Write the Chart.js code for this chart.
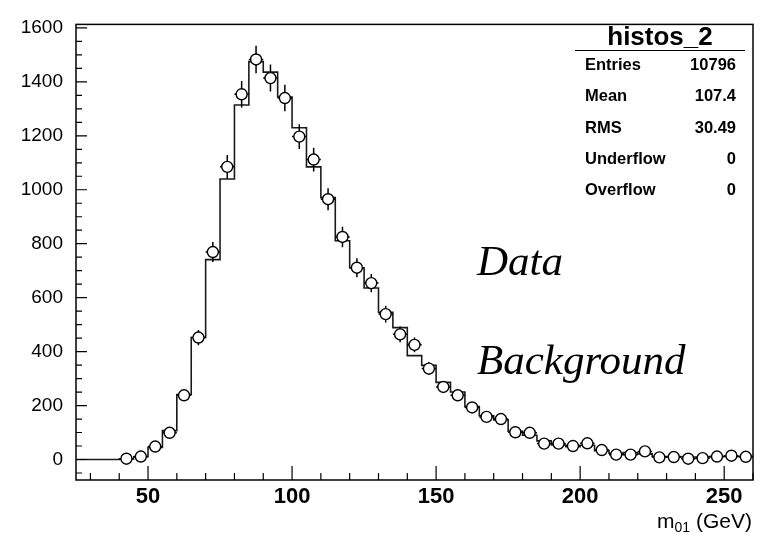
<!DOCTYPE html>
<html>
<head>
<meta charset="utf-8">
<script src="https://cdn.jsdelivr.net/npm/chart.js@4"></script>
<style>
  body { margin: 0; background: #fff; }
  #wrap { width: 767px; height: 534px; }
</style>
</head>
<body>
<div id="wrap"><canvas id="histo_Chart" width="767" height="534"></canvas></div>
<script>
// bin lower edges (GeV), bin width 5
const bin_low = [25, 30, 35, 40, 45, 50, 55, 60, 65, 70, 75, 80, 85, 90, 95, 100, 105, 110, 115, 120,
  125, 130, 135, 140, 145, 150, 155, 160, 165, 170, 175, 180, 185, 190, 195, 200, 205, 210, 215, 220,
  225, 230, 235, 240, 245, 250, 255];
const x_max = 260;

// background histogram contents
const bkg_counts = [0, 0, 0, 2, 10, 45, 107, 241, 452, 741, 1040, 1314, 1475, 1436, 1344, 1230, 1085, 971, 811, 711,
  636, 546, 489, 385, 349, 286, 250, 196, 162, 147, 105, 90, 69, 54, 47, 53, 33, 23, 26, 21,
  11, 11, 9, 9, 11, 11, 11];

// data points (bin centres) and their errors
const data_x = [42.5, 47.5, 52.5, 57.5, 62.5, 67.5, 72.5, 77.5, 82.5, 87.5, 92.5, 97.5, 102.5, 107.5, 112.5,
  117.5, 122.5, 127.5, 132.5, 137.5, 142.5, 147.5, 152.5, 157.5, 162.5, 167.5, 172.5, 177.5, 182.5, 187.5,
  192.5, 197.5, 202.5, 207.5, 212.5, 217.5, 222.5, 227.5, 232.5, 237.5, 242.5, 247.5, 252.5, 257.5];
const data_y = [3, 11, 48, 99, 238, 452, 769, 1085, 1354, 1483, 1414, 1340, 1197, 1112, 965,
  825, 711, 654, 539, 464, 425, 337, 269, 238, 193, 158, 150, 101, 99, 59,
  59, 50, 60, 35, 18, 18, 30, 8, 9, 3, 5, 11, 14, 10];
const data_err = [2, 4, 9, 13, 21, 28, 37, 44, 49, 51, 50, 49, 46, 44, 41,
  38, 35, 34, 31, 29, 27, 24, 22, 21, 18, 17, 16, 13, 13, 10,
  10, 9, 10, 8, 6, 6, 7, 4, 4, 2, 3, 4, 5, 4];

const x_ticks = [50, 100, 150, 200, 250];
const y_ticks = [0, 200, 400, 600, 800, 1000, 1200, 1400, 1600];

const stats_title = 'histos_2';
const stats_names = ['Entries', 'Mean', 'RMS', 'Underflow', 'Overflow'];
const stats_values = ['10796', '107.4', '30.49', '0', '0'];

const text_labels = ['Data', 'Background'];

const bkg_points = bin_low.map((x, i) => ({ x: x, y: bkg_counts[i] }));
bkg_points.push({ x: x_max, y: bkg_counts[bkg_counts.length - 1] });
const data_points = data_x.map((x, i) => ({ x: x, y: data_y[i] }));

const SANS = '"Liberation Sans", Arial, sans-serif';

const rootStyle = {
  id: 'rootStyle',
  beforeDatasetDraw(chart, args) {
    if (args.index !== 1) return;
    const xs = chart.scales.x, ys = chart.scales.y, ctx = chart.ctx;
    ctx.save();
    ctx.strokeStyle = '#000';
    ctx.lineWidth = 1.5;
    ctx.beginPath();
    data_x.forEach((x, i) => {
      const px = xs.getPixelForValue(x);
      const py = ys.getPixelForValue(data_y[i]);
      ctx.moveTo(px, ys.getPixelForValue(data_y[i] - data_err[i]));
      ctx.lineTo(px, ys.getPixelForValue(data_y[i] + data_err[i]));
      ctx.moveTo(xs.getPixelForValue(x - 2.5), py);
      ctx.lineTo(xs.getPixelForValue(x + 2.5), py);
    });
    ctx.stroke();
    ctx.restore();
  },
  afterDraw(chart) {
    const ctx = chart.ctx, a = chart.chartArea;
    const xs = chart.scales.x, ys = chart.scales.y;
    ctx.save();
    // frame
    ctx.strokeStyle = '#000';
    ctx.lineWidth = 1.5;
    ctx.strokeRect(a.left, a.top, a.right - a.left, a.bottom - a.top);
    // ticks
    ctx.lineWidth = 1.2;
    ctx.beginPath();
    for (let v = 30; v <= 260; v += 10) {
      const px = xs.getPixelForValue(v);
      const len = v % 50 === 0 ? 14 : 7;
      ctx.moveTo(px, a.bottom);
      ctx.lineTo(px, a.bottom - len);
    }
    for (let v = -50; v <= 1600; v += 50) {
      const py = ys.getPixelForValue(v);
      const len = v % 200 === 0 ? 11 : 6;
      ctx.moveTo(a.left, py);
      ctx.lineTo(a.left + len, py);
    }
    ctx.stroke();

    // stats box
    ctx.fillStyle = '#000';
    ctx.font = 'bold 26px ' + SANS;
    ctx.textAlign = 'center';
    ctx.textBaseline = 'alphabetic';
    ctx.fillText(stats_title, 660, 45);
    ctx.beginPath();
    ctx.moveTo(575, 50.5);
    ctx.lineTo(745, 50.5);
    ctx.stroke();
    ctx.font = 'bold 16.5px ' + SANS;
    stats_names.forEach((n, i) => {
      const by = 70 + i * 31.3;
      ctx.textAlign = 'left';
      ctx.fillText(n, 585, by);
      ctx.textAlign = 'right';
      ctx.fillText(stats_values[i], 736, by);
    });

    // Data / Background
    ctx.font = 'italic 43px "Liberation Serif", "Times New Roman", serif';
    ctx.textAlign = 'left';
    ctx.fillText(text_labels[0], 477, 275);
    ctx.fillText(text_labels[1], 477, 374);

    // axis title m_01 (GeV)
    ctx.textAlign = 'left';
    const rest = ' (GeV)';
    ctx.font = '14px ' + SANS;
    const wSub = ctx.measureText('01').width;
    ctx.font = '21px ' + SANS;
    const wM = ctx.measureText('m').width;
    const wRest = ctx.measureText(rest).width;
    let x0 = 752 - (wM + wSub + wRest);
    ctx.fillText('m', x0, 528);
    ctx.font = '14px ' + SANS;
    ctx.fillText('01', x0 + wM, 532);
    ctx.font = '21px ' + SANS;
    ctx.fillText(rest, x0 + wM + wSub, 528);
    ctx.restore();
  }
};

const config = {
  type: 'scatter',
  data: {
    datasets: [{
      type: 'line',
      data: bkg_points,
      stepped: true,
      borderColor: '#1a1a1a',
      borderWidth: 1.6,
      pointRadius: 0,
      fill: false,
      order: 2
    }, {
      type: 'scatter',
      data: data_points,
      pointStyle: 'circle',
      pointRadius: 5.5,
      pointBackgroundColor: '#fff',
      pointBorderColor: '#000',
      pointBorderWidth: 1.4,
      order: 1
    }]
  },
  options: {
    responsive: false,
    animation: false,
    events: [],
    layout: { padding: { top: 14, right: 14, left: 0, bottom: 0 } },
    plugins: { legend: { display: false }, tooltip: { enabled: false } },
    scales: {
      x: {
        type: 'linear',
        min: 25,
        max: x_max,
        grid: { display: false, drawTicks: false },
        border: { display: false },
        afterBuildTicks: (s) => { s.ticks = x_ticks.map(v => ({ value: v })); },
        afterFit: (s) => { s.height = 54; },
        ticks: {
          color: '#000',
          padding: 4,
          font: { family: SANS, size: 22, weight: 'bold' },
          callback: (v) => String(v)
        }
      },
      y: {
        type: 'linear',
        min: -76,
        max: 1613,
        grid: { display: false, drawTicks: false },
        border: { display: false },
        afterBuildTicks: (s) => { s.ticks = y_ticks.map(v => ({ value: v })); },
        afterFit: (s) => { s.width = 76; },
        ticks: {
          color: '#000',
          padding: 13,
          font: { family: SANS, size: 19 },
          callback: (v) => String(v)
        }
      }
    }
  },
  plugins: [rootStyle]
};

let myChart = new Chart(document.getElementById('histo_Chart'), config);
</script>
</body>
</html>
